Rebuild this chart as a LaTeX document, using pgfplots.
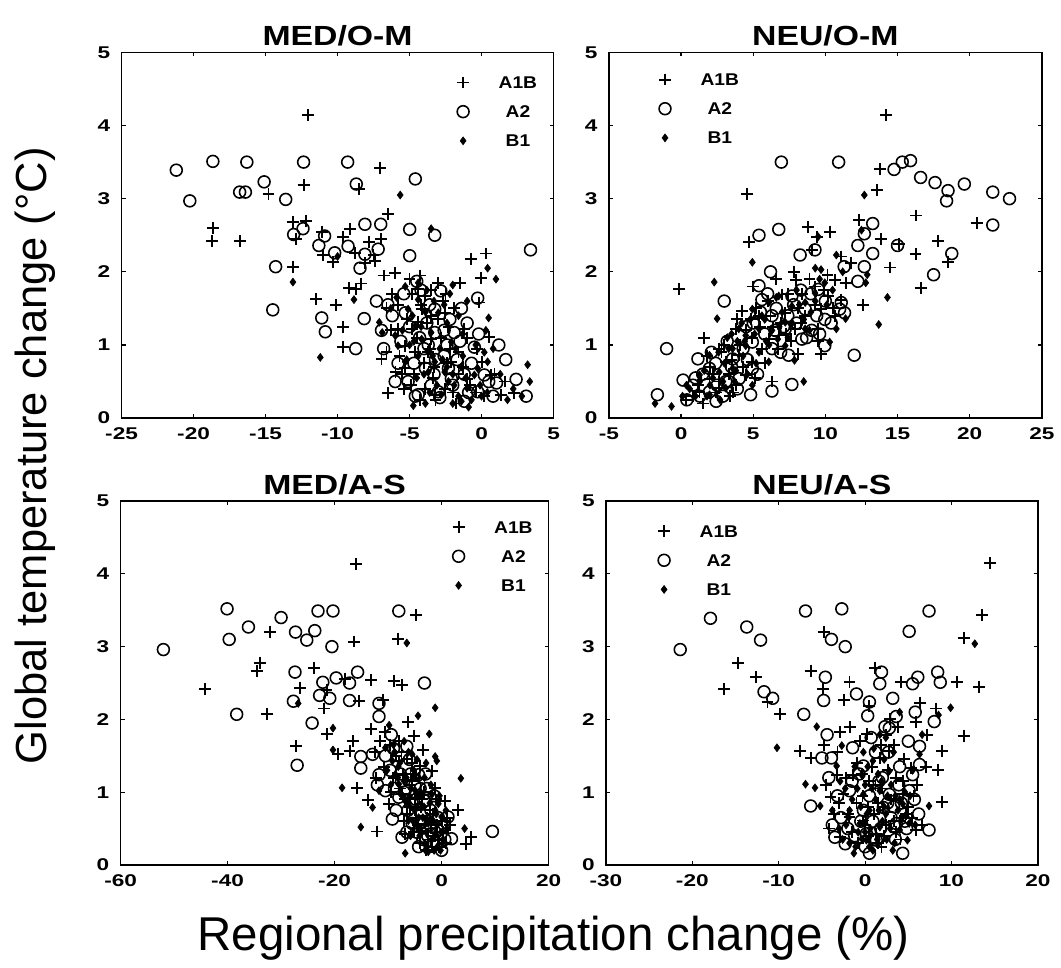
\documentclass[border=0pt]{standalone}
\usepackage{fontspec}
\setmainfont{Liberation Sans}
\newfontfamily\boldf{Liberation Sans Bold}
\usepackage{pgfplots}
\pgfplotsset{compat=1.18}

% MATLAB's bitmap bold text is wider than Arial Bold: stretch it by hand
\newcommand{\wide}[2]{\scalebox{#1}[1]{#2}}

\pgfplotsset{
  panel/.style={
    scale only axis, anchor=south west,
    ymin=0, ymax=5, ytick={0,1,...,5},
    tick align=inside, major tick length=2pt,
    axis line style={line width=0.7pt},
    every tick/.style={black, line width=0.6pt},
    /pgf/number format/assume math mode=true,
    ticklabel style={font=\boldf\fontsize{8.6}{10}\selectfont},
    xticklabel={\wide{1.33}{\pgfmathprintnumber{\tick}}},
    yticklabel={\wide{1.33}{\pgfmathprintnumber{\tick}}},
    xticklabel style={yshift=-1.2pt},
    yticklabel style={xshift=-2.2pt},
    title style={font=\boldf\fontsize{14}{16}\selectfont, at={(0.5,1)}, anchor=base, yshift=-2.5pt},
    legend style={draw=none, fill=none, anchor=north west, inner sep=0pt,
      row sep=8.75pt, font=\boldf\fontsize{8.6}{10}\selectfont,
      nodes={inner sep=0pt, text height=6pt, text depth=0pt}},
  },
  sc/.style={only marks, black,
    legend image code/.code={\path[draw=none,fill=none] (0pt,-3pt) rectangle (21pt,3pt);
      \draw[mark repeat=2,mark phase=2,##1] plot coordinates {(0pt,0pt) (3pt,0pt) (21pt,0pt)};}},
  a1b/.style={sc, mark=+, mark size=3pt, line width=0.95pt},
  a2/.style={sc, mark=o, mark size=3pt, line width=0.8pt},
  b1/.style={sc, mark=diamond*, mark size=2pt, line width=0.3pt},
}

\begin{document}
\begin{tikzpicture}

% ---------- MED/O-M ----------
\begin{axis}[panel, at={(61.5pt,274pt)}, width=218.5pt, height=185pt,
  xmin=-25, xmax=5, xtick={-25,-20,...,5}, title={\wide{1.22}{MED/O-M}},
  legend style={at={(0.776,0.935)}}]
\addplot[a1b] coordinates {(-12.06,4.14)(-7.05,3.42)(-12.36,3.19)(-14.8,3.06)(-8.5,3.13)(-18.63,2.6)(-18.7,2.42)(-16.75,2.42)(-13.1,2.68)(-12.2,2.69)(-12.9,2.45)(-11.1,2.55)(-11.0,2.23)(-10.3,2.13)(-9.13,2.58)(-9.6,2.48)(-8.8,2.26)(-7.8,2.41)(-7.0,2.45)(-6.5,2.79)(-13.1,2.07)(-7.5,2.23)(-7.37,2.15)(-8.1,2.12)(-11.5,1.63)(-10.1,1.55)(-9.6,1.25)(-9.6,0.97)(-9.2,1.78)(-8.74,1.76)(-8.4,1.84)(-6.8,1.95)(-6.0,1.98)(-0.73,2.18)(0.33,2.25)(-0.04,1.91)(-0.2,1.58)(0.49,1.11)(0.03,0.77)(-6.5,0.34)(-6.95,0.81)(-6.6,0.9)(-5.3,0.99)(-5.98,0.63)(2.25,0.34)(-3.5,1.4)(-4.4,1.31)(-2.56,1.44)(-1.6,0.9)(-2.56,0.4)(-1.2,1.22)(-4.85,1.22)(-3.9,1.67)(-4.4,1.76)(-3.0,1.85)(-2.1,0.77)(-1.0,0.54)(-3.25,0.32)(-3.7,0.9)(-5.3,0.68)(-3.5,1.08)(0.65,0.59)(1.33,0.32)(-5.8,1.22)(-4.16,1.49)(-4.2,1.55)(-3.8,1.3)(-2.8,1.1)(-2.2,0.95)(-1.6,0.6)(-0.8,0.45)(-4.6,0.9)(-5.5,0.6)(-3.4,0.55)(-2.0,0.35)(-4.0,0.75)(-6.2,1.7)(-5.8,1.55)(-4.8,1.7)(-3.0,1.35)(-5.2,1.35)(-4.5,1.1)(-3.6,0.95)(-2.4,0.75)(-1.3,0.7)(-0.4,0.35)(-3.2,0.25)(-4.9,0.45)(-2.7,1.6)(-1.9,1.5)(-5.7,0.85)(-6.3,1.2)(-3.9,0.4)(-1.0,1.1)(0.9,0.6)(-2.3,1.25)(-5.0,1.9)(-4.3,1.95)(-3.5,1.75)(-2.5,1.7)(-1.5,1.85)(-6.6,1.5)(-5.4,0.4)(-4.3,0.25)(-1.8,0.2)(0.2,0.3)(-0.3,0.95)(1.6,0.5)(-3.3,0.7)(-4.7,0.6)};
\addlegendentry{\wide{1.13}{A1B}}
\addplot[a2] coordinates {(-21.2,3.39)(-20.26,2.97)(-18.66,3.51)(-16.8,3.09)(-16.4,3.09)(-16.3,3.5)(-15.1,3.23)(-13.6,2.99)(-12.36,3.5)(-9.3,3.5)(-8.7,3.2)(-4.6,3.27)(-13.05,2.51)(-12.4,2.59)(-14.3,2.07)(-14.5,1.48)(-11.3,2.36)(-10.9,2.49)(-10.2,2.26)(-9.27,2.35)(-8.1,2.65)(-7.0,2.65)(-7.18,2.31)(-8.1,2.24)(-8.44,2.05)(-4.99,2.58)(-4.99,2.22)(-3.25,2.5)(3.4,2.3)(-11.1,1.37)(-10.85,1.18)(-8.74,0.95)(-8.15,1.36)(-6.95,1.2)(-7.3,1.6)(-4.5,1.87)(-2.83,1.74)(-0.27,1.64)(-0.5,0.97)(1.68,0.8)(1.04,0.48)(2.4,0.53)(3.1,0.3)(0.19,0.59)(-6.0,0.5)(-5.1,0.5)(-4.4,0.32)(-3.0,0.36)(-2.1,0.54)(-1.2,0.23)(-3.7,1.0)(-3.25,1.17)(-1.9,1.17)(-1.0,1.3)(-3.25,1.49)(-5.3,1.44)(-6.2,1.4)(-2.3,0.68)(-3.9,0.68)(-0.27,0.36)(-4.2,1.75)(-3.5,0.45)(-2.6,0.85)(-1.5,1.05)(-5.6,1.05)(-6.5,1.55)(-0.7,0.75)(-2.9,0.28)(0.5,0.5)(-5.0,1.25)(-4.0,0.95)(-3.2,0.8)(-2.0,0.45)(-1.2,0.6)(-4.7,0.75)(-3.8,1.3)(-2.2,1.35)(-0.2,1.15)(-5.4,1.7)(-6.8,0.95)(1.2,1.0)(-4.6,0.3)(-3.3,0.6)(-2.4,1.0)(-1.7,0.8)(-0.9,0.35)(0.8,0.3)(-5.8,0.75)(-4.3,1.1)(-2.6,1.2)(-1.4,1.5)(-3.6,1.55)};
\addlegendentry{\wide{1.13}{A2}}
\addplot[b1] coordinates {(-5.65,3.05)(-13.1,1.86)(-11.2,0.83)(-8.86,1.62)(-4.74,0.17)(0.42,2.05)(1.0,1.9)(0.49,1.37)(3.2,0.73)(3.35,0.5)(-3.5,2.59)(-2.0,1.82)(1.8,0.25)(-1.4,0.23)(0.19,0.9)(-5.3,1.8)(-7.1,1.31)(-6.0,1.13)(-4.6,1.26)(-4.16,1.08)(-3.25,0.77)(-2.56,0.63)(-1.9,0.45)(-1.0,0.41)(-0.5,0.59)(-3.0,1.44)(-1.6,1.4)(-4.4,1.62)(-5.1,1.49)(-3.7,0.63)(-2.8,0.32)(-5.8,0.99)(-0.27,0.68)(0.42,0.77)(-2.1,1.04)(-3.5,1.17)(-5.3,0.77)(-6.9,1.17)(-10.0,2.21)(-4.8,1.4)(-3.9,1.45)(-3.3,1.6)(-2.6,1.55)(-4.5,0.55)(-3.6,0.35)(-2.3,0.5)(-1.6,0.3)(-0.7,0.25)(-1.3,0.85)(-5.0,1.0)(-6.3,1.5)(-2.9,0.95)(-0.4,1.0)(0.8,0.95)(-4.2,1.25)(-5.5,1.2)(-4.7,1.05)(-3.4,0.85)(-2.4,0.7)(-1.8,0.95)(-1.1,0.55)(-0.1,0.45)(-4.0,0.6)(-3.1,0.45)(-2.0,0.2)(-5.9,1.65)(-4.4,1.85)(-2.2,1.7)(-1.3,1.15)(0.4,0.35)(1.3,0.6)(-5.2,0.8)(-4.4,0.85)(-3.9,0.2)(-2.7,0.8)(-2.0,0.6)(-1.4,0.7)(-0.9,0.15)(0.0,0.3)(-3.8,1.75)(-2.4,1.3)(-1.0,1.6)(0.3,1.2)(2.2,0.4)(2.8,0.3)};
\addlegendentry{\wide{1.13}{B1}}
\end{axis}

% ---------- NEU/O-M ----------
\begin{axis}[panel, at={(308pt,274pt)}, width=219pt, height=185pt,
  xmin=-5, xmax=25, xtick={-5,0,...,25}, title={\wide{1.22}{NEU/O-M}},
  legend style={at={(0.115,0.943)}}]
\addplot[a1b] coordinates {(14.19,4.14)(4.55,3.06)(13.8,3.41)(13.57,3.12)(-0.13,1.76)(4.7,2.41)(8.78,2.61)(10.3,2.55)(9.44,2.48)(12.36,2.71)(13.85,2.45)(16.3,2.77)(15.1,2.38)(17.8,2.42)(20.5,2.67)(16.25,2.24)(14.5,2.06)(16.6,1.78)(12.6,1.55)(18.5,2.14)(4.2,1.47)(1.58,1.09)(4.87,1.36)(7.97,1.89)(7.0,1.69)(9.28,1.8)(10.15,1.96)(11.1,1.62)(9.7,0.88)(8.1,0.88)(6.3,0.5)(0.32,0.25)(2.65,0.95)(3.8,1.22)(5.4,1.4)(6.08,1.08)(7.2,1.44)(8.6,1.4)(10.2,1.67)(10.65,1.89)(11.8,2.12)(11.1,2.21)(1.97,0.54)(3.1,0.77)(4.0,0.86)(1.28,0.36)(4.94,0.77)(6.77,1.13)(7.9,1.22)(9.5,1.22)(9.7,1.49)(10.65,1.4)(2.65,0.41)(4.48,0.59)(2,0.7)(2.8,0.9)(3.3,0.6)(3.8,0.45)(4.5,1.2)(5.2,1.5)(6.0,1.6)(6.4,1.25)(7.4,1.7)(8.1,1.5)(8.9,1.9)(9.3,1.55)(1.2,0.45)(2.4,0.35)(3.0,1.0)(5.6,0.95)(0.8,0.3)(1.8,0.85)(2.2,0.6)(3.5,0.8)(4.1,1.0)(4.9,1.1)(5.5,1.25)(6.2,1.4)(6.9,1.3)(7.6,1.05)(8.4,1.7)(9.9,1.75)(3.4,0.3)(5.1,0.55)(7.8,2.0)(9.1,2.3)(1.5,0.2)(2.6,0.5)(3.6,0.35)(4.3,0.7)(5.8,0.75)(6.7,0.95)(7.3,1.15)(8.3,1.3)(9.5,1.05)(10.5,1.5)(11.4,1.85)(3.9,1.35)(5.0,1.8)(6.6,1.9)};
\addlegendentry{\wide{1.13}{A1B}}
\addplot[a2] coordinates {(6.95,3.5)(10.92,3.5)(14.76,3.4)(15.33,3.5)(15.9,3.52)(16.6,3.29)(17.6,3.22)(18.5,3.11)(18.4,2.97)(19.63,3.2)(21.6,3.09)(22.76,3.0)(21.6,2.64)(18.76,2.25)(17.5,1.96)(15.0,2.36)(13.28,2.66)(12.7,2.52)(12.25,2.36)(13.28,2.25)(12.7,2.07)(12.25,1.87)(11.3,2.07)(8.25,2.23)(9.28,2.3)(5.4,2.5)(6.77,2.58)(5.4,1.81)(2.99,1.6)(-1.0,0.95)(-1.64,0.32)(0.14,0.52)(1.17,0.81)(2.43,0.23)(4.82,0.32)(6.3,0.37)(7.68,0.46)(12.0,0.86)(9.05,1.2)(9.96,1.35)(10.99,1.49)(11.1,1.58)(5.6,1.62)(6.3,1.4)(6.3,0.95)(4.94,1.04)(3.57,0.81)(1.97,0.68)(0.83,0.45)(4.02,0.54)(4.94,0.68)(7.22,1.22)(8.37,1.08)(7.45,0.86)(8.6,1.49)(9.96,0.99)(11.33,1.44)(7.68,1.67)(9.5,1.76)(3.1,0.5)(1.97,0.36)(1.5,0.6)(2.5,0.45)(3.5,0.7)(4.3,0.95)(5.0,1.3)(5.8,1.15)(6.6,1.5)(7.1,1.25)(8.0,1.3)(9.0,1.7)(10.0,1.6)(2.9,0.3)(1.0,0.55)(2.1,0.9)(3.9,0.4)(4.6,0.8)(5.3,0.6)(6.0,1.7)(6.9,0.9)(7.8,1.55)(8.7,1.1)(9.4,1.4)(10.4,1.3)(3.2,1.05)(0.4,0.25)(1.3,0.3)(2.4,0.75)(3.3,0.5)(4.5,1.25)(5.5,1.45)(6.5,1.2)(7.4,1.4)(8.3,1.75)(9.6,1.15)(6.2,2.0)};
\addlegendentry{\wide{1.13}{A2}}
\addplot[b1] coordinates {(-1.8,0.2)(-0.66,0.16)(2.3,1.86)(2.5,1.36)(4.94,2.13)(6.7,1.08)(10.76,2.23)(11.4,1.36)(10.76,1.22)(10.3,1.04)(12.7,3.05)(12.5,2.57)(12.9,1.96)(12.8,1.85)(14.3,1.65)(13.7,1.28)(7.86,0.79)(8.5,0.5)(9.7,2.03)(9.5,2.48)(0.37,0.45)(1.28,0.59)(1.97,0.86)(2.65,0.63)(3.57,0.95)(4.0,1.22)(4.48,1.13)(4.94,1.49)(5.6,1.4)(6.08,1.58)(6.77,1.67)(7.22,1.31)(7.68,1.53)(8.6,1.58)(9.28,1.71)(9.96,1.85)(3.57,0.68)(4.94,0.45)(6.08,0.77)(1.97,0.32)(3.1,0.41)(4.48,0.99)(5.4,1.22)(7.22,0.99)(8.6,1.22)(1.0,0.3)(1.6,0.65)(2.2,0.55)(3.0,0.75)(3.3,0.95)(3.9,1.05)(4.2,1.3)(5.1,1.15)(5.8,1.35)(6.3,1.2)(7.0,1.45)(8.2,1.55)(9.0,1.45)(9.6,1.9)(4.6,0.6)(2.7,0.25)(0.6,0.4)(1.3,0.5)(2.0,0.45)(2.6,0.9)(3.5,1.15)(4.3,0.85)(4.8,1.35)(5.4,0.9)(6.1,1.0)(6.6,1.65)(7.4,1.1)(8.0,1.75)(8.9,1.2)(9.3,2.05)(10.1,1.55)(3.7,0.5)(0.1,0.3)(1.8,0.3)(2.9,0.5)(3.8,0.65)(4.4,1.05)(5.2,0.75)(5.9,1.05)(6.8,1.25)(7.7,1.3)(8.5,1.35)(9.3,1.6)(10.5,1.75)(11.2,2.0)(3.2,1.1)};
\addlegendentry{\wide{1.13}{B1}}
\end{axis}

% ---------- MED/A-S ----------
\begin{axis}[panel, at={(61pt,48pt)}, width=216.5pt, height=184pt,
  xmin=-60, xmax=20, xtick={-60,-40,...,20}, title={\wide{1.22}{MED/A-S}},
  legend style={at={(0.775,0.946)}}]
\addplot[a1b] coordinates {(-16.0,4.14)(-4.74,3.43)(-8.1,3.11)(-16.3,3.07)(-32.0,3.2)(-34.0,2.78)(-34.5,2.66)(-44.2,2.42)(-32.6,2.07)(-27.2,1.64)(-26.5,2.43)(-23.8,2.71)(-21.5,2.4)(-22.0,2.15)(-21.4,1.8)(-19.3,1.52)(-17.2,1.56)(-18.0,2.56)(-13.2,2.54)(-15.5,2.25)(-11.0,2.27)(-13.2,1.87)(-15.8,1.06)(-12.0,0.46)(-13.8,0.89)(-8.9,2.53)(-7.4,2.47)(-6.3,1.97)(-5.2,1.77)(-3.4,1.58)(-4.0,1.36)(-1.23,1.06)(3.08,0.75)(5.5,0.38)(4.6,0.29)(-10.5,1.83)(-8.0,1.43)(-12.3,1.2)(-9.8,0.84)(-7.4,0.97)(-4.9,0.75)(-3.1,0.57)(-0.6,0.34)(-5.5,1.15)(-1.8,1.29)(-16.6,1.7)(-6.8,0.43)(0.6,0.88)(-8.5,1.5)(-7.2,1.25)(-6.0,1.1)(-5.0,0.9)(-3.8,0.8)(-2.8,0.65)(-2.0,0.5)(-1.2,0.4)(-0.5,0.25)(-9.6,1.65)(-4.4,0.55)(-10.8,1.35)(-12.5,1.55)(-6.5,0.7)(1.5,0.55)(-9.0,1.2)(-7.8,1.05)(-6.8,0.9)(-5.9,0.8)(-4.8,0.65)(-3.9,0.5)(-2.5,0.35)(-1.6,0.7)(-0.9,0.55)(0.2,0.45)(-3.3,1.0)(-7.5,1.55)(-11.5,1.7)(-5.5,1.4)(-2.9,0.2)(0.8,0.3)(-8.0,1.7)(-6.5,1.45)(-5.8,1.25)(-4.2,1.2)(-3.6,0.9)(-2.2,0.75)(-1.0,0.9)(0.0,0.6)(1.0,0.65)(-5.2,0.45)(-4.0,0.3)(-1.8,0.25)(-9.5,1.0)(-7.0,0.6)};
\addlegendentry{\wide{1.13}{A1B}}
\addplot[a2] coordinates {(-52.0,2.96)(-40.1,3.52)(-39.7,3.1)(-38.3,2.07)(-36.1,3.27)(-30.0,3.4)(-27.3,3.2)(-25.2,3.09)(-23.7,3.22)(-23.1,3.49)(-20.3,3.49)(-20.5,3.0)(-8.0,3.49)(-27.4,2.65)(-27.7,2.25)(-27.0,1.37)(-24.2,1.95)(-22.2,2.51)(-22.8,2.33)(-20.9,2.29)(-19.7,2.57)(-17.2,2.5)(-15.7,2.65)(-17.2,2.26)(-11.7,2.22)(-3.2,2.5)(-11.7,2.04)(-9.4,1.79)(-15.1,1.33)(-15.1,1.49)(-9.2,0.63)(9.5,0.46)(0.0,0.2)(1.85,0.36)(-6.5,1.63)(-8.0,0.93)(-4.3,1.24)(-11.7,1.24)(-5.5,0.57)(-1.85,0.43)(1.2,0.66)(-3.1,0.88)(-10.5,1.02)(-12.9,1.52)(-7.4,0.38)(-4.3,0.25)(-9.6,1.3)(-7.0,1.0)(-5.5,0.85)(-3.5,0.6)(-2.0,0.75)(-1.0,0.3)(-8.5,0.75)(-12.0,1.1)(-4.0,1.05)(-6.0,1.45)(-8.8,1.05)(-6.3,0.75)(-4.7,0.45)(-2.6,0.4)(-1.4,0.95)(0.5,0.55)(-10.5,1.5)(-7.7,1.25)(-5.0,1.1)(-3.0,1.25)(-9.0,1.6)(-7.5,1.15)(-5.8,1.25)(-4.8,0.9)(-3.5,0.35)(-2.2,0.55)(-0.6,0.65)(0.6,0.35)(-6.5,0.45)(-2.8,1.05)};
\addlegendentry{\wide{1.13}{A2}}
\addplot[b1] coordinates {(-6.5,3.05)(-1.2,2.16)(-4.4,2.05)(-2.3,1.8)(3.6,1.19)(-1.2,1.49)(-0.9,1.43)(-18.6,1.06)(-15.1,0.52)(-6.8,0.16)(-2.5,0.18)(4.3,0.5)(-26.8,2.22)(-20.3,1.58)(-20.3,1.88)(-9.8,1.92)(-10.5,1.61)(-11.7,1.02)(-8.6,1.24)(-6.8,0.88)(-4.9,1.02)(-3.7,0.79)(-2.5,0.57)(-1.2,0.43)(-0.6,0.84)(-6.2,0.61)(-4.3,0.48)(-8.0,1.11)(-9.2,1.43)(-1.8,0.97)(-5.5,1.52)(0.0,0.66)(-3.1,0.29)(-4.9,1.24)(-12.9,0.79)(-7.8,1.4)(-6.6,1.2)(-5.7,1.05)(-4.6,0.8)(-3.5,0.65)(-2.8,0.45)(-1.8,0.35)(-0.8,0.25)(0.3,0.35)(-1.5,0.6)(-2.2,0.85)(-3.9,1.0)(-5.2,1.3)(-7.0,1.7)(-8.8,1.55)(-10.2,1.3)(-4.1,0.4)(-0.4,0.95)(-8.2,1.2)(-7.3,0.95)(-6.1,0.85)(-5.3,0.6)(-4.3,0.65)(-3.3,0.8)(-2.7,0.25)(-1.4,0.2)(-0.1,0.45)(1.0,0.5)(-1.0,0.7)(-2.0,1.1)(-3.2,1.2)(-4.6,1.45)(-6.2,1.55)(-9.5,1.1)(-9.0,1.65)(-8.1,1.35)(-7.0,1.15)(-6.0,0.95)(-5.0,0.75)(-4.4,0.95)(-3.7,0.45)(-2.3,0.6)(-1.2,0.75)(-0.2,0.2)(0.8,0.75)(-2.9,1.4)(-5.8,0.4)(-3.0,0.2)};
\addlegendentry{\wide{1.13}{B1}}
\end{axis}

% ---------- NEU/A-S ----------
\begin{axis}[panel, at={(306.5pt,48pt)}, width=218.5pt, height=184pt,
  xmin=-30, xmax=20, xtick={-30,-20,...,20}, title={\wide{1.22}{NEU/A-S}},
  legend style={at={(0.12,0.935)}}]
\addplot[a1b] coordinates {(14.5,4.15)(13.5,3.43)(11.4,3.12)(13.2,2.44)(10.6,2.52)(11.4,1.77)(8.9,0.87)(-14.7,2.77)(-12.6,2.58)(-16.3,2.42)(-11.3,2.24)(-9.85,2.07)(-6.3,2.67)(-4.9,2.42)(-4.8,3.2)(-2.4,2.27)(-1.8,2.52)(0.5,2.19)(1.1,2.71)(4.2,2.52)(6.4,2.23)(8.2,2.15)(8.9,1.57)(8.4,1.31)(5.3,1.33)(5.9,1.97)(7.2,1.79)(-1.76,1.9)(-2.9,1.83)(-4.8,1.65)(-7.5,1.56)(-6.3,1.47)(-3.3,1.24)(-4.0,0.93)(-2.5,0.97)(-1.4,1.24)(0.5,1.15)(1.7,1.47)(2.8,1.56)(3.6,1.2)(2.1,0.79)(4.7,0.7)(5.9,0.48)(-1.8,0.66)(-0.2,0.61)(1.3,0.43)(4.35,0.97)(2.4,1.79)(-2.9,0.38)(-1.0,0.85)(0.0,0.55)(1.0,0.7)(2.0,1.05)(3.0,0.9)(4.0,0.6)(5.0,0.8)(-2.2,1.2)(0.8,1.35)(2.6,1.3)(3.3,1.65)(1.5,0.3)(-0.6,1.7)(4.5,1.45)(6.0,1.1)(-3.6,0.7)(-1.5,0.45)(-0.3,0.95)(0.4,0.4)(1.5,0.85)(2.4,0.55)(3.6,0.45)(4.4,1.15)(5.4,0.65)(6.6,0.55)(-4.5,1.1)(-0.9,1.4)(0.2,1.8)(2.9,2.0)(7.0,1.35)(1.9,0.25)(-4.2,0.5)(-3.0,0.85)(-2.0,0.7)(-0.8,0.3)(0.3,0.8)(1.2,1.1)(2.2,0.4)(3.3,0.6)(4.1,0.35)(5.6,0.95)(-0.4,1.25)(1.8,1.65)(3.8,1.9)(-3.2,1.55)};
\addlegendentry{\wide{1.13}{A1B}}
\addplot[a2] coordinates {(-21.4,2.96)(-17.9,3.39)(-13.7,3.27)(-12.1,3.09)(-6.9,3.49)(-2.7,3.52)(-3.9,3.1)(-2.3,3.0)(5.1,3.21)(7.4,3.49)(-11.7,2.38)(-10.7,2.29)(-7.1,2.07)(-4.6,2.58)(-4.8,2.26)(-1.0,2.35)(0.5,2.24)(1.9,2.65)(1.7,2.49)(3.2,2.29)(3.6,2.04)(2.8,1.88)(6.1,2.58)(5.5,2.49)(8.4,2.65)(8.7,2.51)(8.0,1.97)(6.3,1.63)(-1.45,1.61)(-4.4,1.79)(-5.0,1.47)(-3.9,1.47)(-4.2,1.2)(-0.2,1.36)(-6.3,0.81)(-3.5,0.38)(-2.3,0.29)(7.4,0.48)(6.3,1.38)(4.35,0.16)(2.1,0.79)(0.15,0.43)(5.1,1.02)(3.6,0.57)(1.3,0.34)(5.5,1.24)(-1.8,1.02)(0.5,0.16)(2.8,0.97)(-0.5,0.6)(0.5,0.95)(1.8,0.5)(3.0,0.65)(4.2,0.85)(-2.8,0.65)(1.2,1.55)(2.3,1.9)(5.0,1.7)(0.0,0.25)(3.5,0.35)(-1.2,0.4)(0.9,0.6)(2.6,0.85)(3.9,1.1)(4.8,0.5)(6.2,0.7)(-3.2,0.95)(-0.7,1.25)(1.6,1.15)(2.7,1.55)(0.3,2.05)(5.8,2.1)(-2.0,0.5)(-0.2,0.75)(1.0,0.35)(2.0,1.2)(3.3,0.8)(4.6,0.6)(5.7,0.9)(-1.5,1.15)(0.7,1.75)(4.0,1.35)(-3.8,0.55)};
\addlegendentry{\wide{1.13}{A2}}
\addplot[b1] coordinates {(12.7,3.04)(9.9,2.16)(8.5,2.06)(7.4,0.81)(4.9,0.34)(-1.3,0.16)(-10.2,1.61)(-6.9,1.11)(-5.6,1.9)(-5.8,1.06)(-5.2,0.81)(-2.7,1.64)(-3.3,1.36)(-2.9,1.15)(-0.4,1.24)(0.9,1.43)(1.7,1.02)(2.4,0.7)(4.0,0.48)(-0.6,0.57)(0.15,0.34)(1.7,0.52)(2.8,1.29)(4.35,0.84)(6.3,1.52)(6.6,1.79)(4.0,2.1)(1.7,1.79)(-0.2,0.97)(-1.8,0.75)(0.5,0.75)(3.2,0.2)(5.1,0.57)(0.9,0.2)(-0.8,0.45)(0.2,0.7)(0.5,0.25)(1.2,0.9)(2.0,0.6)(2.5,0.35)(3.0,1.1)(3.8,0.75)(4.6,1.0)(-1.5,0.9)(-2.2,0.55)(1.0,1.6)(1.5,1.25)(0.0,1.1)(2.2,1.45)(-0.3,0.35)(5.5,1.3)(-3.8,0.75)(-2.6,0.35)(-1.1,0.25)(-0.5,0.8)(0.6,0.5)(1.4,0.35)(2.2,0.8)(2.9,0.5)(3.5,0.95)(4.3,0.65)(5.2,0.95)(-1.2,1.35)(0.3,1.35)(1.9,1.15)(3.3,1.55)(-2.3,1.05)(-3.0,0.5)(-1.9,0.65)(-0.9,1.05)(0.0,0.45)(0.8,1.05)(1.6,0.75)(2.6,0.95)(3.4,0.3)(4.0,0.9)(4.8,0.7)(5.8,0.55)(-0.2,1.55)(2.4,1.75)(-1.8,0.3)};
\addlegendentry{\wide{1.13}{B1}}
\end{axis}

\node[rotate=90, anchor=base, font=\fontsize{22}{26}\selectfont] at (23.5pt,255pt) {Global temperature change (°C)};
\node[anchor=base, font=\fontsize{24}{28}\selectfont] at (280pt,4.5pt) {Regional precipitation change (\%)};
\path (0,0) rectangle (530.5pt,485.5pt);
\end{tikzpicture}
\end{document}
